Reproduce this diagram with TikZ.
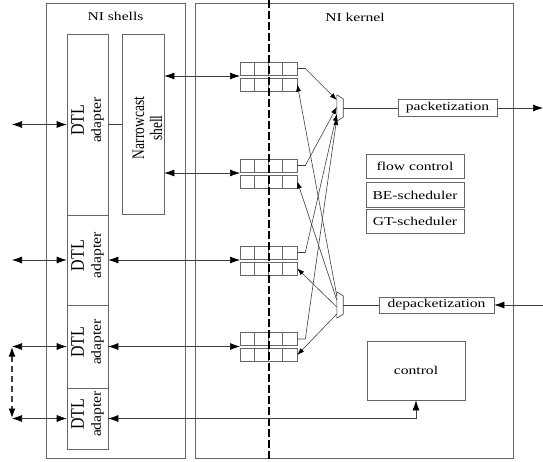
\documentclass[tikz,border=0pt]{standalone}
\usepackage{fontspec}
\setmainfont{Liberation Serif}
\usepackage{graphicx}
\usetikzlibrary{arrows.meta,positioning}

\newcommand{\htxt}[1]{\scalebox{1.3}[1]{#1}}
\newcommand{\vtxt}[1]{\scalebox{1}[1.3]{#1}}
\newcommand{\dtltxt}{{\fontsize{16}{16}\selectfont\scalebox{1}[1.2]{DTL}}\\[3pt]{\fontsize{12.5}{12}\selectfont\scalebox{1.25}[1.1]{adapter}}}

\tikzset{
  blk/.style={draw=black!60, inner sep=0pt, line width=0.6pt, font=\fontsize{12}{14}\selectfont},
  txt/.style={font=\fontsize{12}{14}\selectfont, inner sep=0pt},
  vlbl/.style={rotate=90, align=center, inner sep=0pt, font=\fontsize{12}{14}\selectfont},
  fifo/.style={blk, minimum width=57pt, minimum height=13pt,
    path picture={\foreach \k in {1,2,3}
      \draw[black!60] ([xshift=\k*14.25pt]path picture bounding box.north west) -- ([xshift=\k*14.25pt]path picture bounding box.south west);}},
  wire/.style={draw=black!75, line width=0.6pt},
  arr/.style={wire, -{Latex[length=7pt,width=5pt,color=black]}},
  bigarr/.style={wire, -{Latex[length=10pt,width=7pt,color=black]}},
  duplex/.style={wire, {Latex[length=10pt,width=7pt,color=black]}-{Latex[length=10pt,width=7pt,color=black]}}
}

\begin{document}
\begin{tikzpicture}[x=1pt, y=-1pt]
\useasboundingbox (0,0) rectangle (543,461);

\node[blk, minimum width=139pt, minimum height=455pt] (shells) at (115.5,230.5) {};
\node[blk, minimum width=318pt, minimum height=455pt] (kernel) at (354,230.5) {};
\node[txt] (shellslbl) at (115.5,16) {\htxt{NI shells}};
\node[txt] (kernellbl) at (355,17) {\htxt{NI kernel}};

% shell side
\node[blk, minimum width=41pt, minimum height=181pt] (ad1) at (87.5,124.5) {};
\node[blk, minimum width=41pt, minimum height=90pt] (ad2) at (87.5,260) {};
\node[blk, minimum width=41pt, minimum height=83pt] (ad3) at (87.5,346.5) {};
\node[blk, minimum width=41pt, minimum height=61pt] (ad4) at (87.5,418.5) {};
\foreach \a in {ad1,ad2,ad3,ad4}
  \node[vlbl, xshift=4.5pt] at (\a) {\dtltxt};

\node[blk, minimum width=42pt, minimum height=180pt] (nc) at (143,124) {};
\node[vlbl, font=\fontsize{13.5}{16}\selectfont] (nclbl) at (147.5,128) {\vtxt{Narrowcast}\\[2pt]\vtxt{shell}};

% kernel side
\foreach \yc [count=\i] in {76,173,260,346.5} {
  \node[fifo] (qo\i) at (268.5,\yc-7.5) {};
  \node[fifo] (qi\i) at (268.5,\yc+8.5) {};
  \coordinate (p\i) at (240,\yc);
}

\node[inner sep=0pt, minimum width=6pt, minimum height=26pt] (mux) at (340,108) {};
\draw[wire] (mux.north west) -- (mux.south west) -- ([yshift=4pt]mux.south east) -- ([yshift=-4pt]mux.north east) -- cycle;
\node[inner sep=0pt, minimum width=6pt, minimum height=26pt] (demux) at (340,305) {};
\draw[wire] (demux.north west) -- (demux.south west) -- ([yshift=4pt]demux.south east) -- ([yshift=-4pt]demux.north east) -- cycle;

\node[blk, minimum width=99pt, minimum height=17pt] (pkt) at (447.5,108) {\htxt{packetization}};
\node[blk, minimum width=115pt, minimum height=16pt] (depkt) at (436.5,305) {\htxt{depacketization}};
\node[blk, minimum width=98pt, minimum height=24pt] (flow) at (415,166) {\htxt{flow control}};
\node[blk, minimum width=98pt, minimum height=25pt, below=4pt of flow] (be) {\htxt{BE-scheduler}};
\node[blk, minimum width=98pt, minimum height=24pt, below=1pt of be] (gt) {\htxt{GT-scheduler}};
\node[blk, minimum width=98pt, minimum height=59pt] (ctrl) at (416,370.5) {\htxt{control}};

\coordinate (cuttop) at (269,0);
\coordinate (cutbot) at (269,461);
\draw[line width=2pt, dash pattern=on 8pt off 3pt] (cuttop) -- (cutbot);

% connections
\coordinate (ext1) at (12,124.5);
\coordinate (ext2) at (12,260);
\coordinate (ext3) at (12,346.5);
\coordinate (ext4) at (12,418.5);
\foreach \i in {1,...,4}
  \draw[duplex] (ext\i) -- (ad\i);
\draw[duplex, line width=1.8pt, dash pattern=on 6pt off 4pt] (ext3) -- (ext4);

\draw[wire] (ad1.east) -- (ad1.east -| nc.west);
\draw[duplex] (nc.east |- p1) -- (p1);
\draw[duplex] (nc.east |- p2) -- (p2);
\draw[duplex] (ad2) -- (p3);
\draw[duplex] (ad3) -- (p4);
\draw[duplex] (ad4) -| (ctrl);

\foreach \i/\s in {1/8,2/1,3/-6,4/-10}
  \draw[arr] (qo\i.east) -- ++(8,0) -- ([yshift=\s pt]mux.west);
\foreach \i/\s in {1/9,2/5,3/-2,4/-9}
  \draw[arr] ([yshift=\s pt]demux.west) -- (qi\i.east);

\coordinate (netout) at (543,108);
\coordinate (netin) at (543,305);
\draw[wire] (mux) -- (pkt);
\draw[bigarr] (pkt) -- (netout);
\draw[bigarr] (netin) -- (depkt);
\draw[wire] (depkt) -- (demux);
\end{tikzpicture}
\end{document}
